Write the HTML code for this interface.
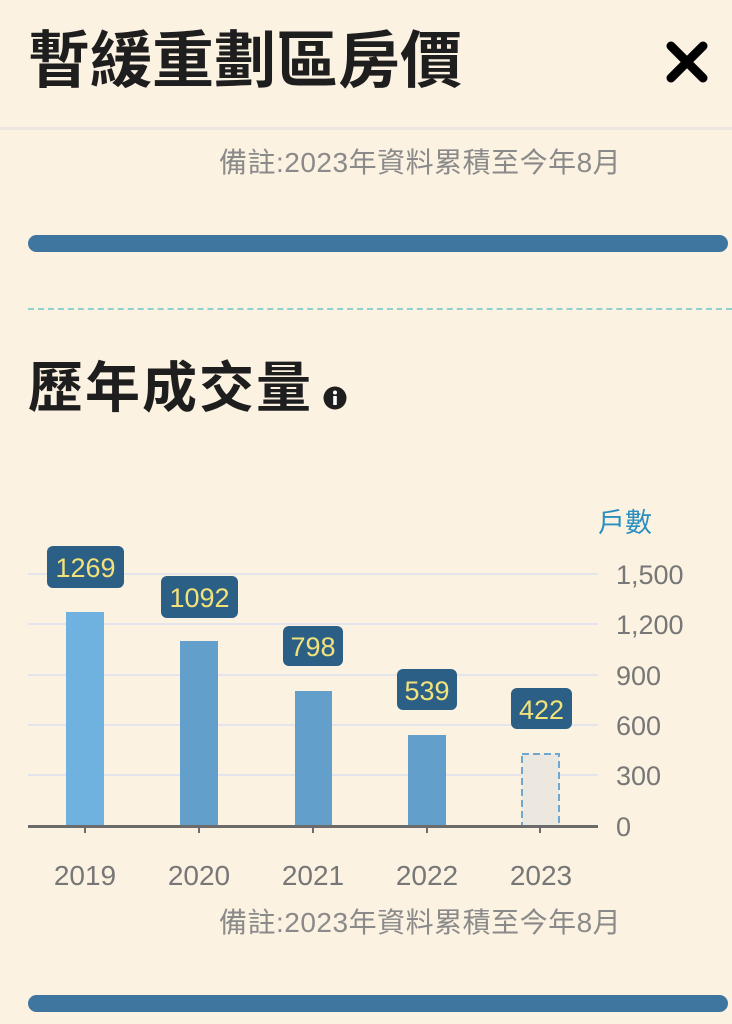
<!DOCTYPE html>
<html><head><meta charset="utf-8"><style>
body{margin:0;width:732px;height:1024px;background:#fbf2e1;position:relative;overflow:hidden;font-family:"Liberation Sans","Noto Sans CJK TC",sans-serif}
.a{position:absolute;white-space:nowrap}
</style></head><body>
<div class="a" style="left:28px;top:22px;font-size:62px;font-weight:bold;color:#1e1e1e;letter-spacing:0px;line-height:80px">暫緩重劃區房價</div>
<svg class="a" style="left:664px;top:40px" width="46" height="44"><path d="M7 6 L39 38 M39 6 L7 38" stroke="#000" stroke-width="9" stroke-linecap="round"/></svg>
<div class="a" style="left:0;top:127px;width:732px;height:3px;background:#ece6e0"></div>
<div class="a" style="left:219px;top:145px;font-size:28px;color:#8a8a8a;line-height:36px;letter-spacing:0.5px">備註:2023年資料累積至今年8月</div>
<div class="a" style="left:28px;top:235px;width:700px;height:17px;border-radius:9px;background:#3f769f"></div>
<div class="a" style="left:28px;top:308px;width:704px;border-top:2px dashed #8fd0d0"></div>
<div class="a" style="left:28px;top:352px;font-size:55px;font-weight:bold;color:#1e1e1e;line-height:72px;letter-spacing:2px">歷年成交量</div>
<svg class="a" style="left:323px;top:386px" width="24" height="24"><circle cx="12" cy="12" r="11.5" fill="#1e1e1e"/><rect x="10.2" y="10" width="3.6" height="9" fill="#fff"/><circle cx="12" cy="6.5" r="2" fill="#fff"/></svg>
<div class="a" style="left:598px;top:506px;font-size:27px;color:#2a8fc0;line-height:34px">戶數</div>
<svg class="a" style="left:0;top:530px" width="732" height="380" font-family="Liberation Sans, sans-serif">
<g stroke="#e4e4ec" stroke-width="2">
<line x1="28" x2="598" y1="44" y2="44"/><line x1="28" x2="598" y1="94" y2="94"/><line x1="28" x2="598" y1="145" y2="145"/><line x1="28" x2="598" y1="195" y2="195"/><line x1="28" x2="598" y1="245" y2="245"/></g>
<g font-size="27" fill="#777" text-anchor="start">
<text x="616" y="54">1,500</text><text x="616" y="104">1,200</text><text x="616" y="155">900</text><text x="616" y="205">600</text><text x="616" y="255">300</text><text x="616" y="306">0</text></g>
<rect x="66" y="82" width="38" height="214" fill="#6fb1df"/>
<rect x="180" y="111" width="38" height="185" fill="#62a0cb"/>
<rect x="295" y="161" width="37" height="135" fill="#62a0cb"/>
<rect x="408" y="205" width="38" height="91" fill="#62a0cb"/>
<rect x="522" y="224" width="37" height="72" fill="#ece8e0" stroke="#6fa7d0" stroke-width="2" stroke-dasharray="7,4"/>
<line x1="28" x2="598" y1="296.5" y2="296.5" stroke="#6b6b6b" stroke-width="3"/>
<g stroke="#6b6b6b" stroke-width="2"><line x1="85" x2="85" y1="296" y2="303"/><line x1="199" x2="199" y1="296" y2="303"/><line x1="313" x2="313" y1="296" y2="303"/><line x1="427" x2="427" y1="296" y2="303"/><line x1="540" x2="540" y1="296" y2="303"/></g>
<g fill="#2c5f86">
<rect x="47" y="16" width="77" height="42" rx="6"/><rect x="161" y="46" width="77" height="42" rx="6"/><rect x="283" y="96" width="60" height="40" rx="6"/><rect x="397" y="139" width="60" height="41" rx="6"/><rect x="511" y="158" width="61" height="41" rx="6"/></g>
<g fill="#f2e27a" font-size="27" text-anchor="middle">
<text x="85.5" y="47">1269</text><text x="199.5" y="77">1092</text><text x="313" y="126">798</text><text x="427" y="170">539</text><text x="541.5" y="189">422</text></g>
<g fill="#777" font-size="28" text-anchor="middle">
<text x="85" y="355">2019</text><text x="199" y="355">2020</text><text x="313" y="355">2021</text><text x="427" y="355">2022</text><text x="541" y="355">2023</text></g>
</svg>
<div class="a" style="left:219px;top:905px;font-size:28px;color:#8a8a8a;line-height:36px;letter-spacing:0.5px">備註:2023年資料累積至今年8月</div>
<div class="a" style="left:28px;top:995px;width:700px;height:17px;border-radius:9px;background:#3f769f"></div>
</body></html>
